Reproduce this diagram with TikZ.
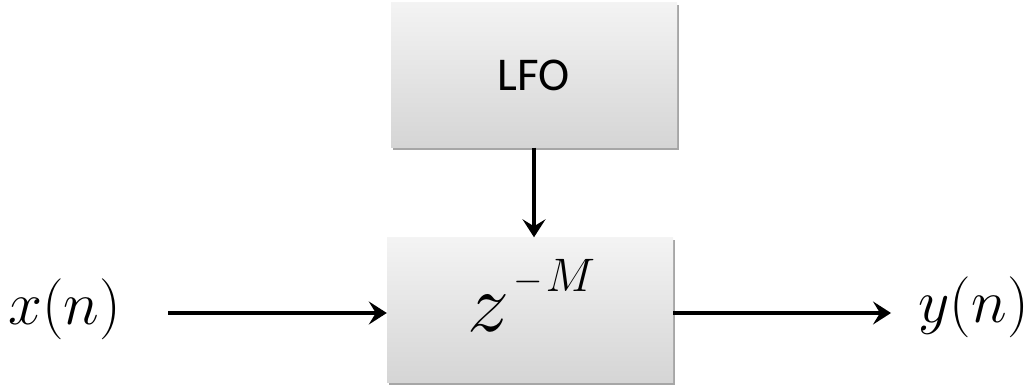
\documentclass[tikz,border=0pt]{standalone}
\usepackage{fix-cm}
\usepackage{fontspec}
\newfontfamily\calibrifont{Carlito}
\usetikzlibrary{arrows.meta,shadows}
\tikzset{
  blk/.style={rectangle, minimum width=286pt, minimum height=145pt, inner sep=0pt,
    top color=gray!9, bottom color=gray!33, draw=none,
    drop shadow={shadow xshift=1.5pt, shadow yshift=-2.5pt, opacity=0.35, fill=black}},
  arr/.style={line width=4.2pt, -{Stealth[length=18pt,width=23pt,inset=7pt]}},
  lbl/.style={inner sep=0pt, font=\fontsize{61}{72}\selectfont}
}
\begin{document}
\begin{tikzpicture}[x=1pt,y=1pt]
\useasboundingbox (0,0) rectangle (1032,385);
\node[blk] (lfo) at (534,310) {\calibrifont\fontsize{47}{47}\selectfont LFO};
\node[blk] (delay) at (530,75) {};
\node[anchor=base west, inner sep=0pt] (zm) at (467,53)
  {{\fontsize{84}{90}\selectfont\(z\)}\hspace{4pt}\raisebox{40pt}{{\fontsize{38}{40}\selectfont\(-\)}\hspace{3pt}{\fontsize{47}{50}\selectfont\(M\)}}};
\node[lbl, anchor=base west] (xn) at (8,60) {\(x(n)\)};
\node[lbl, anchor=base east] (yn) at (1029,62) {\(y(n)\)};
\coordinate (xin) at (168,72);
\coordinate (yout) at (891,72);
\draw[arr] (xin) -- (xin -| delay.west);
\draw[arr] (delay.east |- yout) -- (yout);
\draw[arr] (lfo.south) -- (lfo.south |- delay.north);
\end{tikzpicture}
\end{document}
